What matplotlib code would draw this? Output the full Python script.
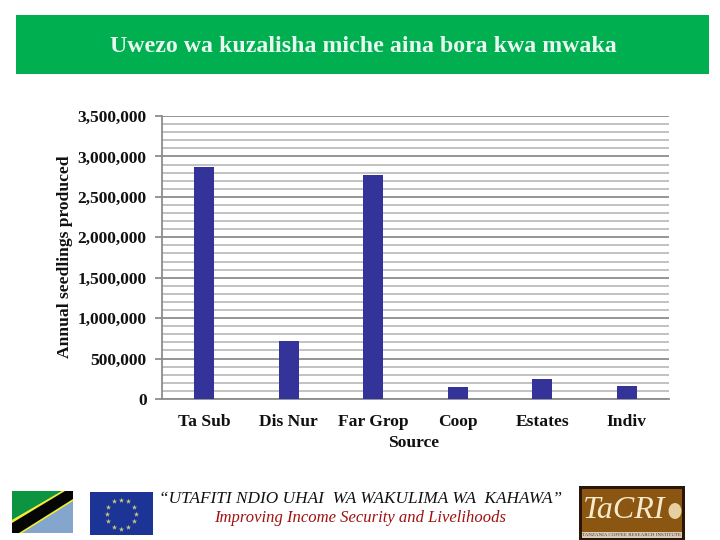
import matplotlib
matplotlib.use("Agg")
import matplotlib.pyplot as plt
from matplotlib.patches import Rectangle, Polygon, Ellipse
from matplotlib.ticker import MultipleLocator, FuncFormatter
import numpy as np

categories = ["Ta Sub", "Dis Nur", "Far Grop", "Coop", "Estates", "Indiv"]
seedlings = [2870000, 717000, 2770000, 150000, 250000, 160000]
title = "Uwezo wa kuzalisha miche aina bora kwa mwaka"
ylabel = "Annual seedlings produced"
xlabel = "Source"
slogan = "“UTAFITI NDIO UHAI  WA WAKULIMA WA  KAHAWA”"
subslogan = "Improving Income Security and Livelihoods"

plt.rcParams["font.family"] = ["Liberation Serif", "DejaVu Serif"]
W, H = 720, 540
fig = plt.figure(figsize=(W / 100, H / 100), dpi=100, facecolor="white")

bg = fig.add_axes([0, 0, 1, 1], zorder=0)
bg.set_xlim(0, W); bg.set_ylim(H, 0); bg.axis("off")
bg.add_patch(Rectangle((16, 15), 693, 59, fc="#00B050", ec="none"))
bg.text(363, 46, title, ha="center", va="center", fontsize=17.2, fontweight="bold", color="#E8F8F0")

# flag
bg.add_patch(Rectangle((12, 491), 61, 42, fc="#84A6CC", ec="none"))
bg.add_patch(Polygon([(12, 491), (62, 491), (12, 520)], fc="#0C9440", ec="none"))
bg.add_patch(Polygon([(12, 520), (62, 491), (73, 491), (73, 501), (22, 533), (12, 533)], fc="#F2EE30", ec="none"))
bg.add_patch(Polygon([(12, 523), (65, 491), (73, 491), (73, 499), (19, 533), (12, 533)], fc="#050505", ec="none"))

# EU flag
bg.add_patch(Rectangle((90, 492), 63, 43, fc="#1B3496", ec="none"))
angles = np.linspace(0, 2 * np.pi, 12, endpoint=False)
bg.scatter(121 + 14.5 * np.cos(angles), 514 + 14.5 * np.sin(angles), marker="*", s=16, c="#C8C87A", linewidths=0)

# TaCRI logo
bg.add_patch(Rectangle((579, 486), 106, 54, fc="#2B1506", ec="none"))
bg.add_patch(Rectangle((582, 489), 100, 43, fc="#8B5512", ec="none"))
bg.add_patch(Rectangle((582, 532), 100, 6, fc="#D8CDBD", ec="none"))
bg.text(624, 510, "TaCRI", ha="center", va="center", fontsize=23, style="italic", color="#F5EBCB")
bg.text(632, 535, "TANZANIA COFFEE RESEARCH INSTITUTE", ha="center", va="center", fontsize=3.6, color="#4A3520")
bg.add_patch(Ellipse((675, 511), 13, 16, fc="#E6D0A0", ec="none"))

bg.text(361, 499, slogan, ha="center", va="center", fontsize=12.45, style="italic", color="#111111")
bg.text(360, 518, subslogan, ha="center", va="center", fontsize=12, style="italic", color="#A01010")

# chart
ax = fig.add_axes([162 / W, 1 - 399 / H, 507 / W, 283 / H], zorder=1)
ax.patch.set_alpha(0)
x = np.arange(len(categories))
ax.bar(x, seedlings, width=0.24, color="#333399", zorder=3)
ax.set_xlim(-0.5, 5.5)
ax.set_ylim(0, 3500000)
ax.yaxis.set_major_locator(MultipleLocator(500000))
ax.yaxis.set_minor_locator(MultipleLocator(100000))
ax.yaxis.set_major_formatter(FuncFormatter(lambda v, p: f"{int(v):,}"))
ax.grid(axis="y", which="major", color="#8C8C8C", lw=1.3, zorder=1)
ax.grid(axis="y", which="minor", color="#BDBDBD", lw=1.3, zorder=1)
ax.set_axisbelow(True)
for s in ("top", "right"):
    ax.spines[s].set_visible(False)
for s in ("left", "bottom"):
    ax.spines[s].set_color("#8C8C8C")
    ax.spines[s].set_linewidth(1.3)
ax.tick_params(axis="y", which="major", length=5, width=1.3, color="#8C8C8C", pad=6)
ax.tick_params(axis="y", which="minor", length=0)
ax.tick_params(axis="x", length=0, pad=11)
ax.set_xticks(x, categories)
for t in ax.get_yticklabels() + ax.get_xticklabels():
    t.set_fontsize(12.6); t.set_fontweight("bold"); t.set_color("#111111")

bg.text(65, 257, ylabel, rotation=90, ha="center", va="center", fontsize=12.6, fontweight="bold", color="#111111")
bg.text(414, 443, xlabel, ha="center", va="center", fontsize=12.6, fontweight="bold", color="#111111")

fig.savefig("out.png", dpi=100)
